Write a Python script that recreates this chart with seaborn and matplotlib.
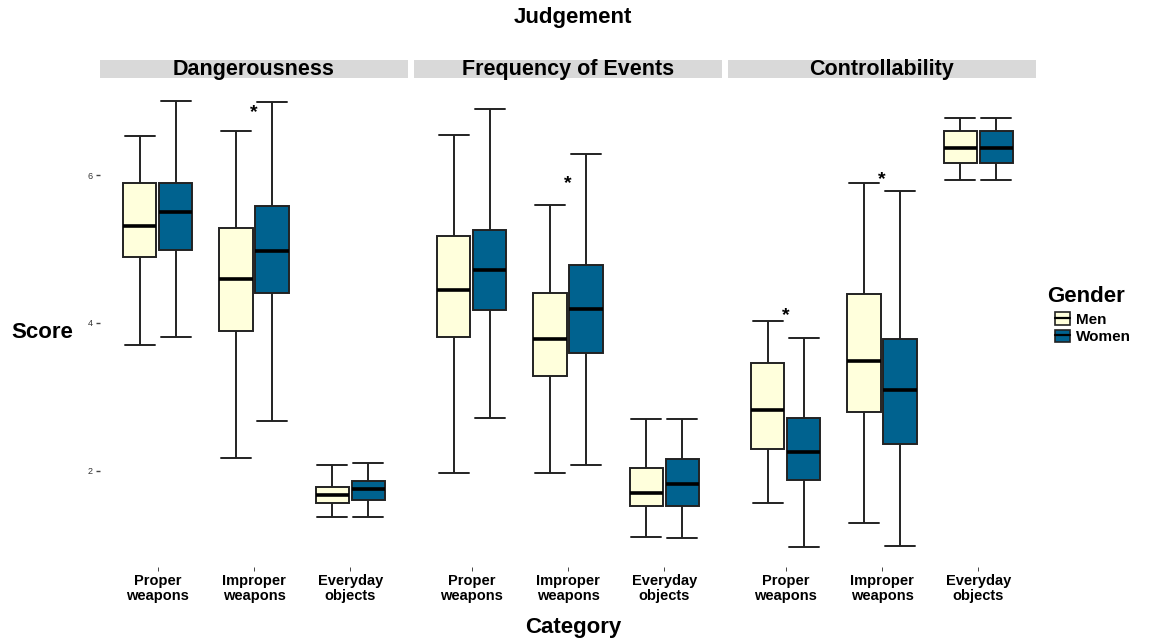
import numpy as np
import pandas as pd
import matplotlib
matplotlib.use("Agg")
import matplotlib.pyplot as plt
from matplotlib.patches import Rectangle, Patch
from matplotlib.lines import Line2D
from matplotlib.legend_handler import HandlerTuple
import seaborn as sns

judgements = ["Dangerousness", "Frequency of Events", "Controllability"]
categories = ["Proper\nweapons", "Improper\nweapons", "Everyday\nobjects"]
genders = ["Men", "Women"]

# Five-number summaries per category: [lower whisker, Q1, median, Q3, upper whisker]
dangerousness_men = [[3.70, 4.89, 5.31, 5.89, 6.53],
                     [2.18, 3.89, 4.59, 5.29, 6.59],
                     [1.37, 1.56, 1.68, 1.78, 2.08]]
dangerousness_women = [[3.81, 4.99, 5.50, 5.89, 7.00],
                       [2.68, 4.41, 4.98, 5.58, 6.99],
                       [1.38, 1.60, 1.76, 1.86, 2.10]]
frequency_men = [[1.97, 3.81, 4.45, 5.17, 6.54],
                 [1.97, 3.28, 3.78, 4.41, 5.59],
                 [1.11, 1.52, 1.70, 2.04, 2.70]]
frequency_women = [[2.71, 4.18, 4.72, 5.26, 6.90],
                   [2.08, 3.59, 4.19, 4.79, 6.29],
                   [1.09, 1.52, 1.82, 2.16, 2.70]]
controllability_men = [[1.57, 2.30, 2.83, 3.46, 4.03],
                       [1.29, 2.79, 3.49, 4.39, 5.90],
                       [5.94, 6.17, 6.37, 6.59, 6.77]]
controllability_women = [[0.97, 1.87, 2.26, 2.71, 3.80],
                         [0.98, 2.36, 3.09, 3.78, 5.79],
                         [5.94, 6.17, 6.37, 6.59, 6.77]]

y_ticks = [2, 4, 6]

# Significant gender differences: (judgement, category, height of the asterisk)
significance = [("Dangerousness", "Improper\nweapons", 6.95),
                ("Frequency of Events", "Improper\nweapons", 5.99),
                ("Controllability", "Proper\nweapons", 4.20),
                ("Controllability", "Improper\nweapons", 6.04)]

summaries = {
    ("Dangerousness", "Men"): dangerousness_men,
    ("Dangerousness", "Women"): dangerousness_women,
    ("Frequency of Events", "Men"): frequency_men,
    ("Frequency of Events", "Women"): frequency_women,
    ("Controllability", "Men"): controllability_men,
    ("Controllability", "Women"): controllability_women,
}

# Long table: each five-number summary as five scores, so a min-to-max
# boxplot reproduces whiskers, quartiles and median exactly.
rows = []
for (judgement, gender), per_cat in summaries.items():
    for cat, five in zip(categories, per_cat):
        for v in five:
            rows.append({"Judgement": judgement, "Category": cat,
                         "Gender": gender, "Score": v})
df = pd.DataFrame(rows)

sns.set_style("white")
plt.rcParams["font.family"] = ["Liberation Sans", "DejaVu Sans"]
plt.rcParams["text.color"] = "black"
plt.rcParams["xtick.color"] = "black"
plt.rcParams["ytick.color"] = "black"

palette = {"Men": "#FFFFDC", "Women": "#00628F"}
edge = "#222222"

fig = plt.figure(figsize=(11.5, 6.41), dpi=100)
W, H = 1150, 641
panel_left = [100, 414, 728]
panel_w = 308
top_px, bottom_px = 79, 567

for j, judgement in enumerate(judgements):
    ax = fig.add_axes([panel_left[j] / W, 1 - bottom_px / H,
                       panel_w / W, (bottom_px - top_px) / H])
    sub = df[df["Judgement"] == judgement]
    sns.boxplot(data=sub, x="Category", y="Score", hue="Gender",
                order=categories, hue_order=genders, palette=palette,
                saturation=1, whis=(0, 100), width=0.75, gap=0.08,
                linewidth=1.4, linecolor=edge, capwidths=0.31,
                legend=False,
                medianprops={"linewidth": 2.6, "color": "black"},
                ax=ax)
    ax.set_xlim(-0.6, 2.6)
    ax.set_ylim(0.70, 7.30)
    for s in ax.spines.values():
        s.set_visible(False)
    ax.set_xlabel("")
    ax.set_ylabel("")
    ax.set_xticks(range(len(categories)))
    ax.set_xticklabels(categories, fontsize=10.5, fontweight="bold",
                       linespacing=1.12)
    ax.tick_params(axis="x", bottom=True, length=3, width=0.7,
                   color="#444444", pad=2)
    if j == 0:
        ax.set_yticks(y_ticks)
        ax.set_yticklabels([str(t) for t in y_ticks], fontsize=6.5,
                           color="#333333")
        ax.tick_params(axis="y", left=True, length=3, width=1.0,
                       color="#444444", pad=2)
    else:
        ax.set_yticks([])

    # facet strip
    ax.add_patch(Rectangle((0, 1 + 1 / 488), 1, 18 / 488,
                           transform=ax.transAxes, facecolor="#D9D9D9",
                           edgecolor="none", clip_on=False))
    ax.text(0.5, 1 + 10 / 488, judgement, transform=ax.transAxes,
            ha="center", va="center", fontsize=15.5, fontweight="bold")

    for jud, cat, h in significance:
        if jud == judgement:
            ax.annotate("*", (categories.index(cat), h), xytext=(0, -8.5),
                        textcoords="offset points", ha="center",
                        va="baseline", fontsize=14, fontweight="bold")

fig.text(573 / W, 1 - 18 / H, "Judgement", ha="center", va="center",
         fontsize=16, fontweight="bold")
fig.text(573 / W, 1 - 627 / H, "Category", ha="center", va="center",
         fontsize=16, fontweight="bold")
fig.text(42 / W, 1 - 333 / H, "Score", ha="center", va="center",
         fontsize=16, fontweight="bold")
fig.text(1047 / W, 1 - 296 / H, "Gender", ha="left", va="center",
         fontsize=16, fontweight="bold")

handles = [(Patch(facecolor=palette[g], edgecolor=edge, linewidth=1.2),
            Line2D([0], [0], color="black", linewidth=1.6))
           for g in genders]
fig.legend(handles, genders, loc="upper left",
           bbox_to_anchor=(1055 / W, 1 - 312 / H),
           handler_map={tuple: HandlerTuple(ndivide=1, pad=0)},
           frameon=False, prop={"weight": "bold", "size": 11},
           handlelength=1.0, handleheight=0.9, handletextpad=0.35,
           labelspacing=0.2, borderpad=0, borderaxespad=0)

fig.savefig("out.png", dpi=100, facecolor="white")
